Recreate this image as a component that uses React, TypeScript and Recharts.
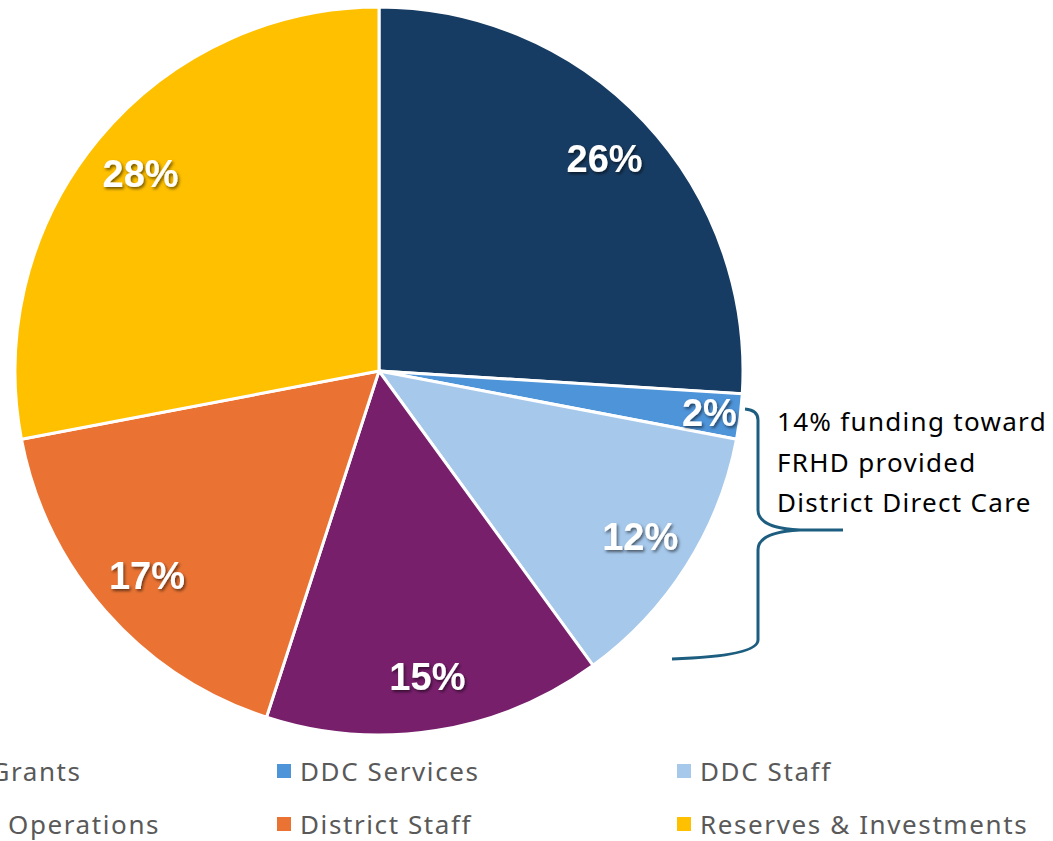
import { PieChart, Pie, Cell, Legend } from "recharts";

const CATEGORIES = [
  "Direct Grants",
  "DDC Services",
  "DDC Staff",
  "District Operations",
  "District Staff",
  "Reserves & Investments",
];
const VALUES = [26, 2, 12, 15, 17, 28];
const COLORS = ["#173C63", "#4E94D9", "#A6C8EB", "#781F6C", "#EA7333", "#FFC000"];
const NOTE_LINES = ["14% funding toward", "FRHD provided", "District Direct Care"];

const data = CATEGORIES.map((name, i) => ({ name, value: VALUES[i] }));

const W = 1053;
const H = 841;
const RAD = Math.PI / 180;
const LEGEND_GREY = "#595959";
const BRACE = "#1D5E80";

function SliceLabel(props: any) {
  const { cx, cy, midAngle, outerRadius, percent } = props;
  const k = percent < 0.05 ? 0.915 : 0.85;
  const r = outerRadius * k;
  const x = cx + r * Math.cos(-midAngle * RAD);
  const y = cy + r * Math.sin(-midAngle * RAD);
  return (
    <text
      x={x}
      y={y}
      textAnchor="middle"
      dominantBaseline="central"
      filter="url(#lblShadow)"
      style={{
        fontFamily: "'Liberation Sans', Arial, sans-serif",
        fontWeight: 700,
        fontSize: 38,
        fill: "#fff",
      }}
    >
      {`${Math.round(percent * 100)}%`}
    </text>
  );
}

function LegendGrid() {
  return (
    <div
      style={{
        position: "absolute",
        left: -123,
        top: 754,
        width: 3 * 400,
        display: "grid",
        gridTemplateColumns: "400px 400px 400px",
        rowGap: 19,
        fontFamily: "'Noto Sans', sans-serif",
        fontSize: 26,
        letterSpacing: 1.6,
        color: LEGEND_GREY,
      }}
    >
      {CATEGORIES.map((name, i) => (
        <div key={name} style={{ display: "flex", alignItems: "center", height: 34, whiteSpace: "nowrap" }}>
          <span
            style={{
              display: "inline-block",
              flex: "none",
              width: 14,
              height: 14,
              background: COLORS[i],
              marginRight: 9,
            }}
          />
          {name}
        </div>
      ))}
    </div>
  );
}

export default function App() {
  return (
    <div
      style={{
        position: "fixed",
        left: 0,
        top: 0,
        width: W,
        height: H,
        background: "#fff",
        overflow: "hidden",
      }}
    >
      <PieChart width={W} height={H} margin={{ top: 0, right: 0, bottom: 0, left: 0 }}>
        <Pie
          data={data}
          dataKey="value"
          nameKey="name"
          cx={379}
          cy={371}
          outerRadius={364}
          startAngle={90}
          endAngle={-270}
          stroke="#fff"
          strokeWidth={3}
          labelLine={false}
          label={SliceLabel}
          isAnimationActive={false}
        >
          {data.map((d, i) => (
            <Cell key={d.name} fill={COLORS[i]} />
          ))}
        </Pie>
        <Legend
          content={() => <LegendGrid />}
          wrapperStyle={{ position: "absolute", left: 0, top: 0, width: W, height: H, pointerEvents: "none" }}
        />
      </PieChart>
      <svg
        width={W}
        height={H}
        style={{ position: "absolute", left: 0, top: 0, pointerEvents: "none" }}
      >
        <defs>
          <filter id="lblShadow" x="-20%" y="-20%" width="140%" height="160%">
            <feDropShadow dx="1.5" dy="2" stdDeviation="1.5" floodColor="#000" floodOpacity="0.55" />
          </filter>
        </defs>
        <path
          d="M745,409 Q758,410 758,420 L758,510 Q758,528 800,530 L843,530 M800,530 Q758,532 758,550 L758,640 Q758,656 672,659"
          fill="none"
          stroke={BRACE}
          strokeWidth={3}
        />
        {NOTE_LINES.map((t, i) => (
          <text
            key={t}
            x={777}
            y={421 + i * 40.5}
            dominantBaseline="central"
            style={{ fontFamily: "'Noto Sans', sans-serif", fontSize: 26, letterSpacing: 1.3, fill: "#000" }}
          >
            {t}
          </text>
        ))}
      </svg>
    </div>
  );
}
